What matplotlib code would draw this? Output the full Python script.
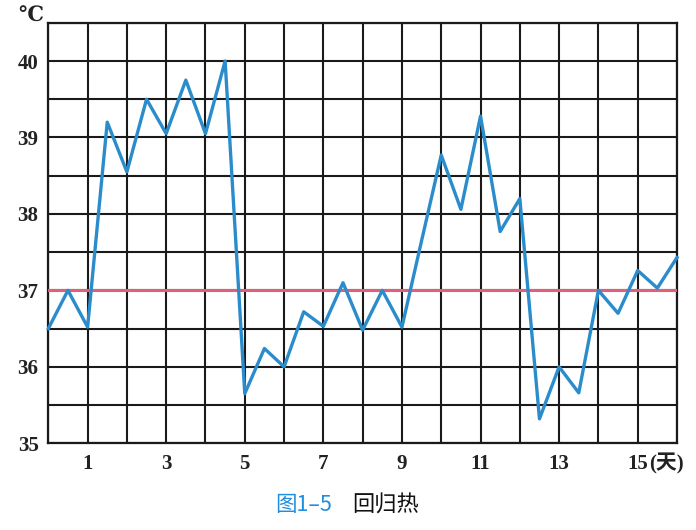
import matplotlib
matplotlib.use("Agg")
import matplotlib.pyplot as plt
import matplotlib.transforms as mtransforms

# data: temperature every half day
days = [0, 0.5, 1, 1.5, 2, 2.5, 3, 3.5, 4, 4.5, 5, 5.5, 6, 6.5, 7, 7.5, 8, 8.5,
        9, 9.5, 10, 10.5, 11, 11.5, 12, 12.5, 13, 13.5, 14, 14.5, 15, 15.5, 16]
temps = [36.5, 37.0, 36.52, 39.2, 38.55, 39.5, 39.05, 39.75, 39.05, 40.0,
         35.65, 36.24, 36.0, 36.72, 36.53, 37.1, 36.48, 37.0,
         36.52, 37.65, 38.77, 38.06, 39.28, 37.77, 38.2, 35.32, 36.0, 35.66,
         37.0, 36.7, 37.26, 37.03, 37.43]
normal_temp = 37.0
x_tick_labels = {1: "1", 3: "3", 5: "5", 7: "7", 9: "9", 11: "11", 13: "13", 15: "15"}
y_tick_labels = {35: "35", 36: "36", 37: "37", 38: "38", 39: "39", 40: "40"}
unit_label = "℃"
day_unit = "(天)"
caption_fig = "图1–5"
caption_title = "回归热"

serif = ["Liberation Serif", "DejaVu Serif", "Noto Sans CJK SC"]
cjk = ["Noto Sans CJK SC", "DejaVu Sans"]

fig = plt.figure(figsize=(6.96, 5.30), dpi=100)
ax = fig.add_axes([0.0694, 0.1636, 0.9033, 0.7934])
ax.set_xlim(0, 16)
ax.set_ylim(35, 40.5)

# grid
yvals = [35 + 0.5 * i for i in range(12)]
ax.set_xticks(range(0, 17))
ax.set_yticks(yvals)
ax.set_xticklabels([x_tick_labels.get(i, "") for i in range(0, 17)])
ax.set_yticklabels([y_tick_labels.get(int(v), "") if float(v).is_integer() else ""
                    for v in yvals])
ax.grid(True, color="#1a1a1a", linewidth=1.5)
ax.tick_params(length=0, labelsize=15)
for lab in ax.get_xticklabels() + ax.get_yticklabels():
    lab.set_fontfamily(serif)
    lab.set_fontweight("bold")
    lab.set_color("#222222")
ax.tick_params(axis="x", pad=8)
ax.tick_params(axis="y", pad=7)
for s in ax.spines.values():
    s.set_color("#1a1a1a")
    s.set_linewidth(1.6)
ax.set_axisbelow(True)

ax.axhline(normal_temp, color="#e0607a", linewidth=2.2, zorder=3)
ax.plot(days, temps, color="#2b8ccc", linewidth=2.4, zorder=4, clip_on=False)

# (天) after the 15 label
trans = mtransforms.blended_transform_factory(ax.transData, ax.transAxes)
ax.annotate(day_unit, xy=(15, 0), xycoords=trans, xytext=(8, -7.5),
            textcoords="offset points", ha="left", va="top",
            fontsize=15, fontweight="bold", family=serif, color="#222222")

fig.text(31 / 696, 1 - 17 / 530, unit_label, ha="center", va="center",
         fontsize=15, fontweight="bold", family=serif, color="#222222")

fig.text(332 / 696, 1 - 505 / 530, caption_fig, ha="right", va="center",
         fontsize=15.5, family=cjk, color="#1e8ee0")
fig.text(352 / 696, 1 - 505 / 530, caption_title, ha="left", va="center",
         fontsize=16, family=cjk, color="#111111")

fig.savefig("out.png", dpi=100)
